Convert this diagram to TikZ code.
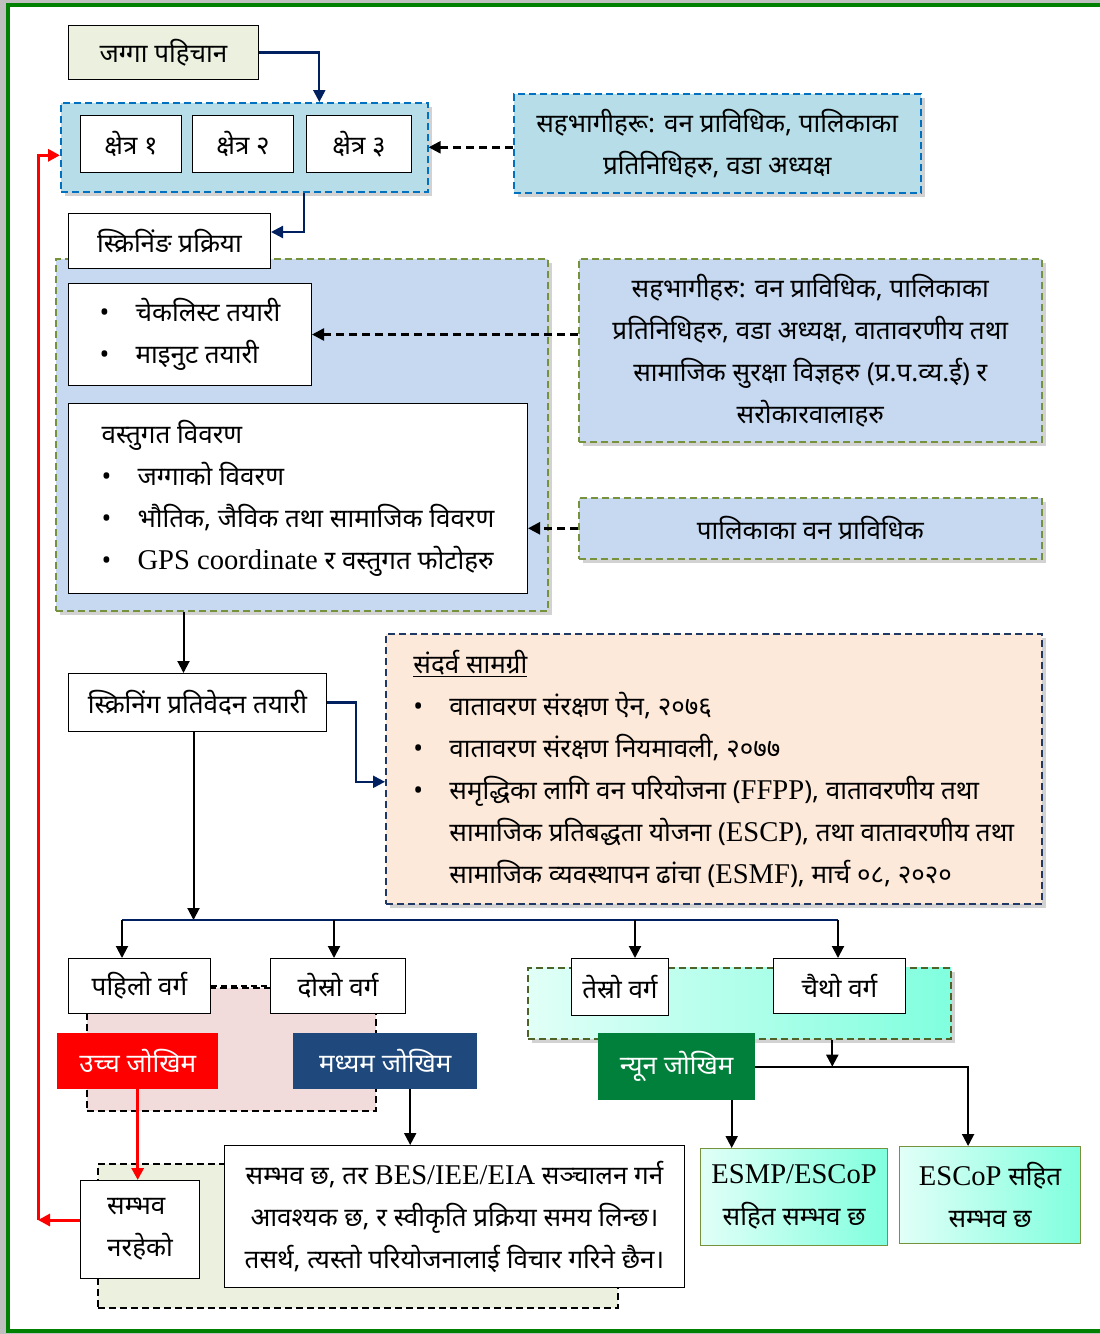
\documentclass[tikz,border=0pt]{standalone}
\usepackage{fontspec}
\setmainfont{Noto Sans}[Script=Devanagari]
\newfontfamily\lat{Liberation Serif}[Scale=1.1]
\definecolor{framegreen}{RGB}{0,128,0}
\definecolor{oliveback}{RGB}{235,241,222}
\definecolor{paleblue}{RGB}{183,222,232}
\definecolor{dashblue}{RGB}{0,112,192}
\definecolor{skyback}{RGB}{198,217,240}
\definecolor{dashgreen}{RGB}{118,146,60}
\definecolor{darkolive}{RGB}{79,98,40}
\definecolor{peachback}{RGB}{253,233,217}
\definecolor{navyline}{RGB}{0,32,96}
\definecolor{navydash}{RGB}{31,56,100}
\definecolor{pinkback}{RGB}{242,220,219}
\definecolor{riskred}{RGB}{255,0,0}
\definecolor{risknavy}{RGB}{31,73,125}
\definecolor{riskgreen}{RGB}{0,128,58}
\definecolor{mintlight}{RGB}{225,255,247}
\definecolor{mintdark}{RGB}{128,255,222}
\usetikzlibrary{
  arrows.meta,
  calc,
  positioning,
  shadows,
}
\tikzset{
  >={Triangle[length=12pt,width=12pt]},
  plainbox/.style={draw,rectangle,fill=white,line width=1pt,anchor=north west},
  groupbox/.style={rectangle,line width=1.6pt,dash pattern=on 7pt off 4pt,anchor=north west,
    drop shadow={shadow xshift=4pt,shadow yshift=-4pt,opacity=0.35}},
  areabox/.style={rectangle,draw=black,line width=1.6pt,dash pattern=on 7pt off 4pt,anchor=north west},
  riskbox/.style={rectangle,anchor=north west,text=white},
  mintbox/.style={rectangle,draw=dashgreen,line width=1.2pt,anchor=north west,
    left color=mintlight,right color=mintdark,align=center},
  navyarrow/.style={->,draw=navyline,line width=2.2pt},
  blackarrow/.style={->,draw=black,line width=2pt},
  dasharrow/.style={->,draw=black,line width=2.4pt,dash pattern=on 8pt off 5pt},
  redarrow/.style={->,draw=riskred,line width=3pt},
}
\newcommand{\bul}{\makebox[36pt][l]{•}}

\begin{document}
\begin{tikzpicture}[x=1pt,y=-1pt,font=\fontsize{26}{42}\selectfont,node distance=0pt and 10pt]
  \useasboundingbox (0,0) rectangle (1100,1334);
  \fill[black!25] (0,0) rectangle (1100,1334);
  \fill[white] (8,5) rectangle (1104,1331);
  \draw[framegreen,line width=4pt] (1104,5) -- (8,5) -- (8,1331) -- (1104,1331);

  % group areas
  \node[groupbox,fill=paleblue,draw=dashblue,minimum width=367,minimum height=89] (zones) at (60,102) {};
  \node[groupbox,fill=paleblue,draw=dashblue,minimum width=407,minimum height=99,align=center] (parts1) at (513,93)
    {सहभागीहरू: वन प्राविधिक, पालिकाका\\प्रतिनिधिहरु, वडा अध्यक्ष};
  \node[groupbox,fill=skyback,draw=dashgreen,minimum width=492,minimum height=352] (screenarea) at (55,258) {};
  \node[groupbox,fill=skyback,draw=dashgreen,minimum width=463,minimum height=183,align=center] (parts2) at (578,258)
    {सहभागीहरु: वन प्राविधिक, पालिकाका\\प्रतिनिधिहरु, वडा अध्यक्ष, वातावरणीय तथा\\सामाजिक सुरक्षा विज्ञहरु (प्र.प.व्य.ई) र\\सरोकारवालाहरु};
  \node[groupbox,fill=skyback,draw=dashgreen,minimum width=463,minimum height=61] (muni) at (578,497)
    {पालिकाका वन प्राविधिक};
  \node[groupbox,fill=peachback,draw=navydash,minimum width=656,minimum height=270,align=left] (refs) at (385,633)
    {\underline{संदर्व सामग्री}\\
     \bul वातावरण संरक्षण ऐन, २०७६\\
     \bul वातावरण संरक्षण नियमावली, २०७७\\
     \bul समृद्धिका लागि वन परियोजना ({\lat FFPP}), वातावरणीय तथा\\
     \hspace*{36pt}सामाजिक प्रतिबद्धता योजना ({\lat ESCP}), तथा वातावरणीय तथा\\
     \hspace*{36pt}सामाजिक व्यवस्थापन ढांचा ({\lat ESMF}), मार्च ०८, २०२०};
  \node[areabox,fill=pinkback,minimum width=289,minimum height=123] (higharea) at (86,987) {};
  \node[groupbox,draw=darkolive,left color=mintlight,right color=mintdark,minimum width=423,minimum height=71] (lowarea) at (527,967) {};
  \node[areabox,fill=oliveback,minimum width=520,minimum height=144] (outarea) at (97,1163) {};

  % boxes
  \node[plainbox,fill=oliveback,minimum width=190,minimum height=54] (site) at (68,25) {जग्गा पहिचान};
  \node[plainbox,minimum width=101,minimum height=57] (zone1) at (80,115) {क्षेत्र १};
  \node[plainbox,minimum width=101,minimum height=57,anchor=west] (zone2) [right=of zone1] {क्षेत्र २};
  \node[plainbox,minimum width=105,minimum height=57,anchor=west] (zone3) [right=12pt of zone2] {क्षेत्र ३};
  \node[plainbox,minimum width=202,minimum height=55] (screen) at (68,213) {स्क्रिनिंङ प्रक्रिया};
  \node[plainbox,minimum width=243,minimum height=102,align=left] (checklist) at (68,283)
    {\bul चेकलिस्ट तयारी\\\bul माइनुट तयारी};
  \node[plainbox,minimum width=459,minimum height=190,align=left] (details) at (68,403)
    {वस्तुगत विवरण\\\bul जग्गाको विवरण\\\bul भौतिक, जैविक तथा सामाजिक विवरण\\\bul {\lat GPS coordinate} र वस्तुगत फोटोहरु};
  \node[plainbox,minimum width=258,minimum height=58] (report) at (68,673) {स्क्रिनिंग प्रतिवेदन तयारी};

  \node[plainbox,minimum width=142,minimum height=55] (cat1) at (68,958) {पहिलो वर्ग};
  \node[plainbox,minimum width=135,minimum height=55] (cat2) at (270,958) {दोस्रो वर्ग};
  \node[plainbox,minimum width=97,minimum height=57] (cat3) at (571,958) {तेस्रो वर्ग};
  \node[plainbox,minimum width=132,minimum height=55] (cat4) at (773,958) {चैथो वर्ग};
  \node[riskbox,fill=riskred,minimum width=161,minimum height=56] (highrisk) at (57,1033) {उच्च जोखिम};
  \node[riskbox,fill=risknavy,minimum width=184,minimum height=56] (midrisk) at (293,1033) {मध्यम जोखिम};
  \node[riskbox,fill=riskgreen,minimum width=157,minimum height=67] (lowrisk) at (598,1033) {न्यून जोखिम};

  \node[mintbox,minimum width=187,minimum height=97] (esmp) at (700,1148) {{\lat ESMP/ESCoP}\\सहित सम्भव छ};
  \node[mintbox,minimum width=181,minimum height=97] (escop) at (899,1146) {{\lat ESCoP} सहित\\सम्भव छ};
  \node[plainbox,minimum width=460,minimum height=142,align=center] (bigtext) at (224,1145)
    {सम्भव छ, तर {\lat BES/IEE/EIA} सञ्चालन गर्न\\आवश्यक छ, र स्वीकृति प्रक्रिया समय लिन्छ।\\तसर्थ, त्यस्तो परियोजनालाई विचार गरिने छैन।};
  \node[plainbox,minimum width=119,minimum height=98,align=left] (notposs) at (80,1180) {सम्भव\\नरहेको};

  % connectors
  \draw[navyarrow] (site.east) -| ([xshift=75pt]zones.north);
  \draw[dasharrow] (parts1.west |- zones.east) -- (zones.east);
  \draw[navyarrow] ([xshift=60pt]zones.south) |- ([yshift=9pt]screen.east);
  \draw[dasharrow] (parts2.west |- checklist.east) -- (checklist.east);
  \draw[dasharrow] (muni.west) -- (muni.west -| details.east);
  \draw[blackarrow] ([xshift=-14pt]report.north |- screenarea.south) -- ([xshift=-14pt]report.north);
  \draw[navyarrow] (report.east) -- ++(29,0) |- ([yshift=-13pt]refs.west);

  \coordinate (busL) at (122,920);
  \coordinate (busR) at (838,920);
  \draw[blackarrow] ([xshift=-4pt]report.south) -- ([xshift=-4pt]report.south |- busL);
  \draw[navyline,line width=2.2pt] (busL) -- (busR);
  \draw[blackarrow] (busL) -- (busL |- cat1.north);
  \draw[blackarrow] ([xshift=-4pt]cat2.north |- busL) -- ([xshift=-4pt]cat2.north);
  \draw[blackarrow] ([xshift=15pt]cat3.north |- busL) -- ([xshift=15pt]cat3.north);
  \draw[blackarrow] (busR) -- (busR |- cat4.north);
  \draw[line width=2pt,dash pattern=on 6pt off 4pt] (cat1.east) -- (cat2.west);

  \draw[blackarrow] ([xshift=93pt]lowarea.south) -- ([xshift=93pt]lowarea.south |- lowrisk.east);
  \draw[blackarrow] (lowrisk.east) -| ([xshift=-22pt]escop.north);
  \draw[blackarrow] ([xshift=55pt]lowrisk.south) -- ([xshift=55pt]lowrisk.south |- esmp.north);
  \draw[blackarrow] ([xshift=25pt]midrisk.south) -- ([xshift=25pt]midrisk.south |- bigtext.north);

  \coordinate (loopback) at (38,1220);
  \draw[redarrow] (highrisk.south) -- (highrisk.south |- notposs.north);
  \draw[redarrow] (notposs.west |- loopback) -- (loopback);
  \draw[redarrow] (loopback) |- ([yshift=-8pt]zones.west);
\end{tikzpicture}
\end{document}
